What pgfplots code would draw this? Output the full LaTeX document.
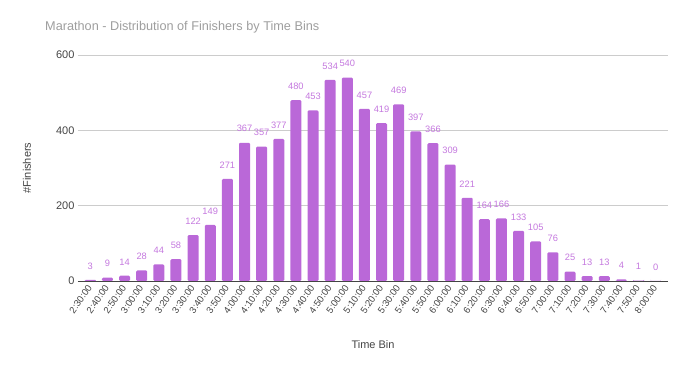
\documentclass[border=0pt]{standalone}
\usepackage{pgfplots}
\pgfplotsset{compat=1.18}
\usepackage{fontspec}
\setmainfont{Liberation Sans}
\definecolor{barc}{RGB}{186,104,216}
\definecolor{lab}{RGB}{196,120,222}
\definecolor{gridc}{RGB}{204,204,204}
\definecolor{txt}{RGB}{68,68,68}
\definecolor{ttl}{RGB}{158,158,158}
\begin{document}
\begin{tikzpicture}
\path[use as bounding box] (-78pt,-90pt) rectangle (608pt,281pt);
\node[anchor=west,text=ttl,font=\fontsize{12.7}{15}\selectfont,inner sep=0pt] at (-33pt,254pt) {Marathon - Distribution of Finishers by Time Bins};
\begin{axis}[
  at={(0,0)}, anchor=south west,
  width=590pt, height=226pt, scale only axis,
  xmin=-0.72, xmax=33.72, ymin=0, ymax=600,
  ytick={0,200,400,600},
  ymajorgrids, grid style={gridc, line width=0.6pt},
  axis line style={draw=none},
  tick style={draw=none},
  xtick={0,...,33},
  xticklabels={2:30:00,2:40:00,2:50:00,3:00:00,3:10:00,3:20:00,3:30:00,3:40:00,3:50:00,4:00:00,4:10:00,4:20:00,4:30:00,4:40:00,4:50:00,5:00:00,5:10:00,5:20:00,5:30:00,5:40:00,5:50:00,6:00:00,6:10:00,6:20:00,6:30:00,6:40:00,6:50:00,7:00:00,7:10:00,7:20:00,7:30:00,7:40:00,7:50:00,8:00:00},
  xticklabel style={rotate=55, anchor=east, inner sep=1pt, font=\fontsize{9.5}{11}\selectfont, text=txt},
  yticklabel style={font=\fontsize{11}{13}\selectfont, text=txt},
  /pgf/number format/assume math mode=true,
  xlabel={Time Bin}, ylabel={\#Finishers},
  xlabel style={at={(axis description cs:0.5,-0.283)}, anchor=center, font=\fontsize{11}{13}\selectfont, text=txt},
  ylabel style={at={(axis description cs:-0.0864,0.5)}, anchor=center, font=\fontsize{11}{13}\selectfont, text=txt},
  ybar, bar width=11pt,
  nodes near coords,
  every node near coord/.append style={font=\fontsize{9.3}{11}\selectfont, text=lab, inner sep=0pt, yshift=10.5pt},
  clip=false,
]
\addplot[fill=barc, draw=none, rounded corners=1.2pt] coordinates {
(0,3) (1,9) (2,14) (3,28) (4,44) (5,58) (6,122) (7,149) (8,271) (9,367)
(10,357) (11,377) (12,480) (13,453) (14,534) (15,540) (16,457) (17,419) (18,469) (19,397)
(20,366) (21,309) (22,221) (23,164) (24,166) (25,133) (26,105) (27,76) (28,25) (29,13)
(30,13) (31,4) (32,1) (33,0)};
\draw[txt, line width=0.8pt] (axis cs:-0.72,0) -- (axis cs:33.72,0);
\end{axis}
\end{tikzpicture}
\end{document}
